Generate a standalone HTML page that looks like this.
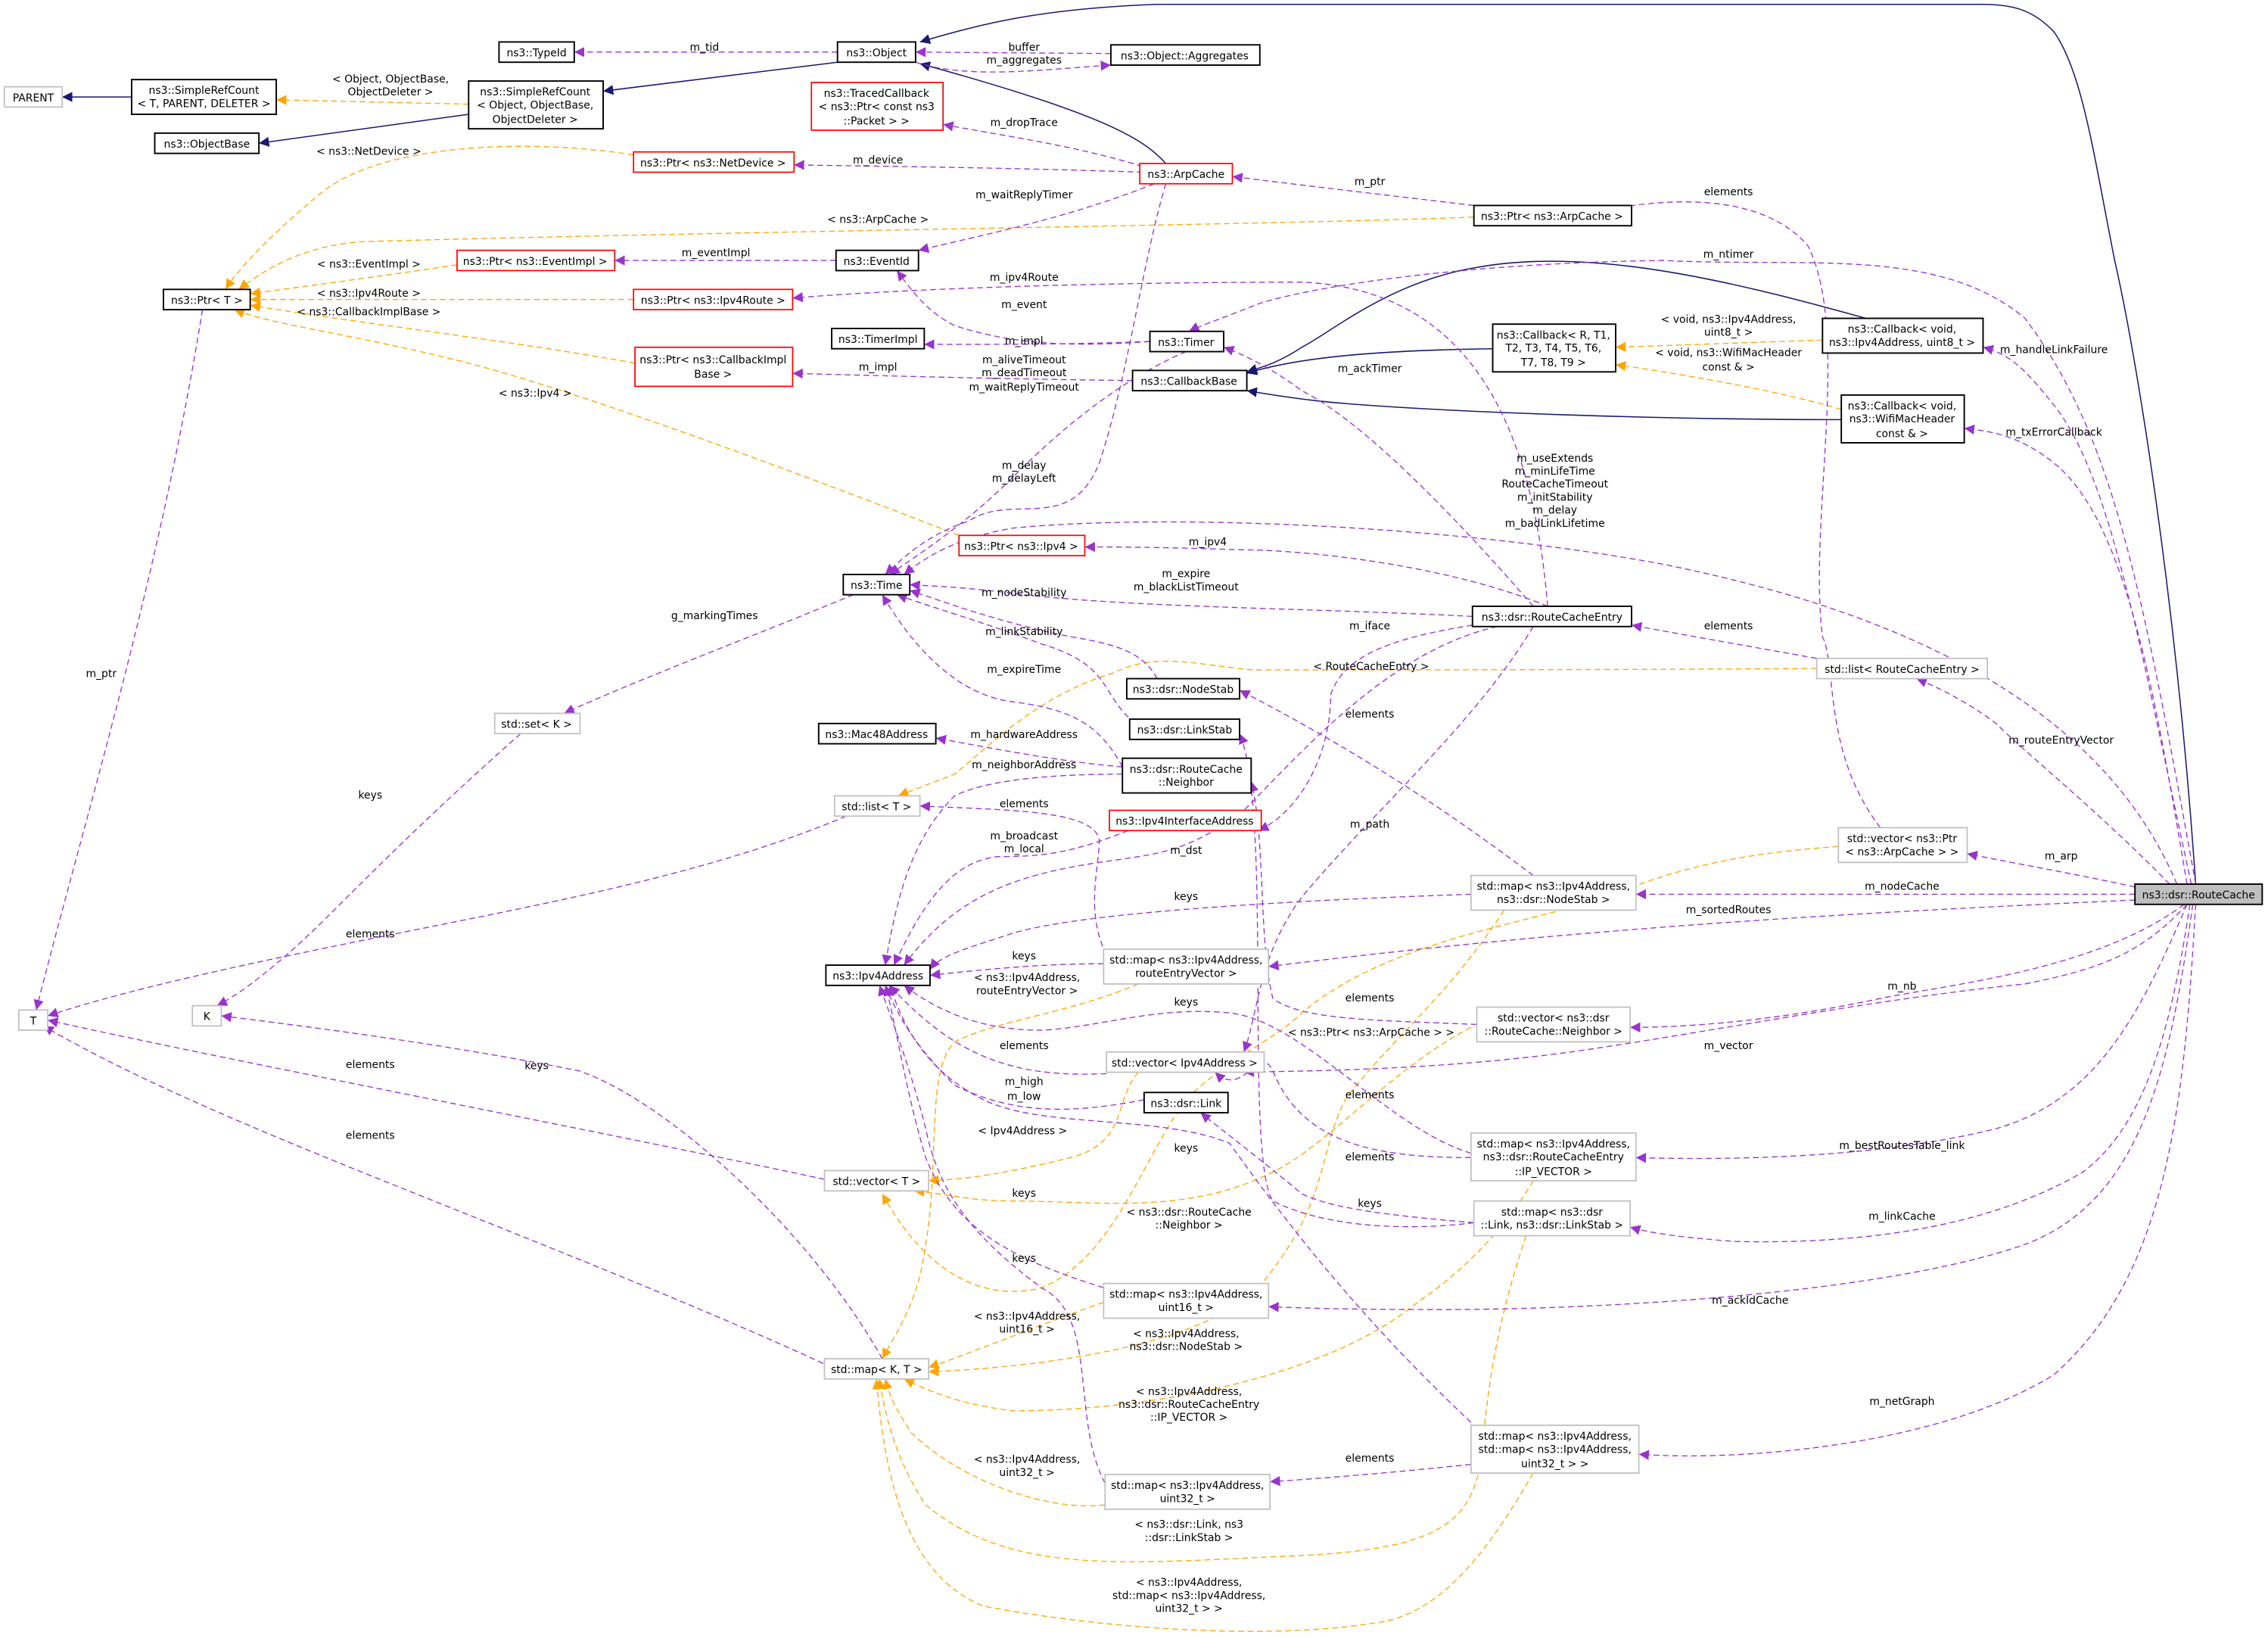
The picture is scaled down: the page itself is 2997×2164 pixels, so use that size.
<!DOCTYPE html>
<html><head><meta charset="utf-8"><style>
html,body{margin:0;padding:0;background:#fff;}
svg{display:block;}
text{font-family:"DejaVu Sans","Liberation Sans",sans-serif;font-size:7.3px;fill:#000;}
.n{fill:#fff;stroke:#000;stroke-width:1;}
.r{fill:#fff;stroke:#ff0000;stroke-width:0.9;}
.g{fill:#fff;stroke:#bfbfbf;stroke-width:0.9;}
.p{fill:none;stroke:#9a32cd;stroke-width:0.7;stroke-dasharray:4,2.5;}
.o{fill:none;stroke:#ffa500;stroke-width:0.7;stroke-dasharray:4,2.5;}
.b{fill:none;stroke:#191970;stroke-width:0.8;}
</style></head><body>
<svg width="2997" height="2164" viewBox="0 0 1568 1132" preserveAspectRatio="none" xmlns="http://www.w3.org/2000/svg">
<defs>
<marker id="mp" viewBox="0 0 10 10" refX="10" refY="5" markerWidth="7" markerHeight="7" orient="auto" markerUnits="userSpaceOnUse"><path d="M0,0 L10,5 L0,10 z" fill="#9a32cd"/></marker>
<marker id="mo" viewBox="0 0 10 10" refX="10" refY="5" markerWidth="7" markerHeight="7" orient="auto" markerUnits="userSpaceOnUse"><path d="M0,0 L10,5 L0,10 z" fill="#ffa500"/></marker>
<marker id="mb" viewBox="0 0 10 10" refX="10" refY="5" markerWidth="7" markerHeight="7" orient="auto" markerUnits="userSpaceOnUse"><path d="M0,0 L10,5 L0,10 z" fill="#191970"/></marker>
</defs>

<g class="b" marker-end="url(#mb)">
<path d="M91,67 L43,67"/>
<path d="M324,79 L179,99"/>
<path d="M579,43 L417,63"/>
<path d="M1518,611 C1505,420 1478,250 1462,180 C1448,110 1440,50 1420,22 C1405,6 1390,3 1370,3 L800,3 C720,6 680,16 636,29"/>
<path d="M806,113 C790,95 760,78 636,44"/>
<path d="M1032,241 C960,242 900,246 862,258"/>
<path d="M1290,220 C1200,195 1100,170 1020,185 C960,195 920,230 900,240 C885,250 875,253 862,257"/>
<path d="M1273,290 C1150,290 1000,285 920,278 C890,275 875,272 862,270"/>
</g>

<g class="o" marker-end="url(#mo)">
<path d="M324,72 L191,69"/>
<path d="M438,107 C360,95 260,100 220,135 C190,160 165,185 156,200"/>
<path d="M1019,150 C900,155 500,160 250,167 C210,170 185,185 165,200"/>
<path d="M316,183 C270,190 210,198 173,203"/>
<path d="M438,207 L173,207"/>
<path d="M439,251 C350,235 260,225 173,211"/>
<path d="M663,370 C560,330 400,270 320,250 C240,230 190,225 162,214"/>
<path d="M1260,235 L1117,240"/>
<path d="M1273,283 C1230,270 1160,258 1117,252"/>
<path d="M1256,462 C1100,463 900,463 866,463 C830,460 800,450 770,465 C720,480 690,510 660,535 L621,550"/>
<path d="M787,741 C770,760 780,790 740,800 C700,810 670,815 642,816"/>
<path d="M1017,710 C960,740 920,790 880,810 C820,840 760,830 700,830 C670,830 655,825 632,823"/>
<path d="M1271,585 C1200,590 1160,600 1110,620 C1050,640 960,650 900,700 C880,720 850,730 820,760 C790,800 770,870 720,890 C680,900 640,880 610,825"/>
<path d="M787,680 C740,700 690,705 660,720 C640,740 650,800 640,860 C635,900 620,920 610,939"/>
<path d="M763,900 C720,915 680,932 642,945"/>
<path d="M1040,629 C1000,690 960,720 930,760 C910,800 920,830 870,890 C830,930 720,945 642,948"/>
<path d="M1060,816 C1040,850 1010,880 980,900 C920,950 800,975 700,975 C660,970 640,960 625,953"/>
<path d="M764,1040 C720,1045 660,1020 630,990 C620,975 615,965 612,953"/>
<path d="M1055,854 C1040,900 1030,940 1025,1000 C1020,1050 1000,1070 900,1075 C780,1080 700,1090 640,1040 C620,1010 612,980 608,953"/>
<path d="M1060,1018 C1030,1070 1000,1110 960,1120 C880,1135 760,1125 680,1110 C630,1090 612,1030 606,953"/>
</g>

<g class="p" marker-end="url(#mp)">
<path d="M579,36 L397,36"/>
<path d="M768,37 L633,36"/>
<path d="M633,43 C670,55 720,48 768,45"/>
<path d="M578,180 L425,180"/>
<path d="M790,115 C740,100 700,95 652,86"/>
<path d="M790,119 C700,116 620,115 549,114"/>
<path d="M798,127 C740,150 690,160 635,173"/>
<path d="M806,127 C790,180 780,260 760,320 C740,370 700,340 670,360 C640,370 625,385 612,397"/>
<path d="M820,243 C780,260 740,290 700,330 C670,360 640,380 615,397"/>
<path d="M1019,142 C960,135 900,128 852,122"/>
<path d="M795,236 C740,240 700,238 660,225 C640,215 630,200 620,187"/>
<path d="M795,236 C740,238 700,238 639,238"/>
<path d="M783,263 C700,262 620,260 548,258"/>
<path d="M1518,611 C1480,400 1460,300 1400,220 C1340,170 1250,185 1150,180 C1000,182 900,200 870,210 C845,220 830,225 822,229"/>
<path d="M1060,419 C1000,350 940,290 900,270 C880,255 860,245 846,240"/>
<path d="M1070,419 C1060,300 1020,200 900,195 C750,195 620,200 548,206"/>
<path d="M1515,611 C1480,450 1460,330 1420,280 C1400,255 1390,245 1371,240"/>
<path d="M1512,611 C1490,480 1470,360 1420,320 C1395,300 1375,298 1358,296"/>
<path d="M1505,611 C1450,480 1300,420 1150,390 C1000,362 800,355 700,365 C660,372 640,385 625,397"/>
<path d="M1070,419 C1000,390 900,380 860,380 C800,378 770,378 750,378"/>
<path d="M1018,426 C900,420 780,420 700,410 C660,405 640,405 629,404"/>
<path d="M800,469 C790,450 770,445 740,440 C690,430 650,415 629,408"/>
<path d="M785,500 C760,480 770,460 720,445 C680,430 645,420 620,411"/>
<path d="M776,530 C760,500 740,490 700,485 C660,480 630,445 610,411"/>
<path d="M590,411 C520,440 440,470 390,493"/>
<path d="M776,530 C740,527 700,520 647,510"/>
<path d="M776,535 C720,535 680,540 660,550 C630,580 620,620 612,667"/>
<path d="M765,660 C750,630 760,600 760,580 C755,560 700,560 636,557"/>
<path d="M780,574 C740,590 720,592 690,592 C660,595 640,620 618,667"/>
<path d="M1018,432 C970,440 930,450 920,480 C920,520 900,560 870,574"/>
<path d="M1256,455 C1200,445 1160,438 1128,432"/>
<path d="M1300,572 C1260,520 1270,460 1260,440 C1250,360 1280,230 1250,170 C1220,135 1160,135 1105,146"/>
<path d="M1060,605 C1000,560 940,520 857,477"/>
<path d="M1500,611 C1450,560 1400,520 1380,500 C1360,485 1340,475 1325,469"/>
<path d="M1060,433 C1020,500 950,560 900,620 C870,660 870,700 860,727"/>
<path d="M1035,433 C960,450 900,520 860,560 C820,590 800,590 760,596 C700,605 660,620 625,667"/>
<path d="M1476,613 C1440,605 1400,598 1360,590"/>
<path d="M1476,618 L1131,618"/>
<path d="M1017,618 C900,622 750,630 700,645 C670,655 650,660 643,670"/>
<path d="M1476,622 C1300,630 1100,640 877,668"/>
<path d="M763,666 C720,666 680,670 643,674"/>
<path d="M1021,708 C950,705 900,705 880,690 C870,650 875,580 865,540"/>
<path d="M1017,797 C960,780 900,705 850,700 C800,695 760,710 720,712 C680,712 650,700 625,681"/>
<path d="M1510,625 C1450,670 1350,680 1300,690 C1230,705 1170,710 1127,710"/>
<path d="M1512,625 C1480,660 1450,670 1400,680 C1300,690 1200,710 1100,725 C1000,740 900,740 860,741"/>
<path d="M765,742 C700,745 660,730 615,681"/>
<path d="M791,760 C740,770 700,770 660,750 C630,720 620,700 612,681"/>
<path d="M1017,800 C950,800 900,790 880,740 C870,720 860,760 840,741"/>
<path d="M1019,845 C960,840 920,835 900,825 C870,800 850,785 830,769"/>
<path d="M1019,845 C980,850 920,850 880,830 C860,800 880,560 857,507"/>
<path d="M763,890 C700,870 660,850 640,800 C625,750 618,700 612,681"/>
<path d="M764,1025 C740,980 760,910 720,890 C680,860 650,830 640,780 C630,740 615,700 608,681"/>
<path d="M1017,983 C950,920 900,860 850,790 C800,770 720,780 680,760 C640,740 625,710 615,681"/>
<path d="M1512,625 C1480,700 1450,760 1380,780 C1300,800 1200,802 1131,800"/>
<path d="M1514,625 C1500,720 1480,780 1440,810 C1380,845 1300,860 1200,858 C1160,855 1140,852 1127,848"/>
<path d="M1516,625 C1500,740 1480,830 1400,860 C1300,895 1100,905 1000,905 C930,905 900,904 877,903"/>
<path d="M1518,625 C1510,760 1500,880 1420,950 C1340,1000 1200,1010 1133,1005"/>
<path d="M1017,1012 C960,1018 910,1022 878,1024"/>
<path d="M140,214 C110,400 60,560 25,698"/>
<path d="M360,507 C300,560 260,600 230,630 C200,660 170,685 150,695"/>
<path d="M585,564 C500,600 400,620 300,640 C200,660 100,680 33,702"/>
<path d="M570,815 C500,800 400,780 300,760 C200,740 100,720 33,705"/>
<path d="M575,945 C500,910 400,870 300,830 C200,790 100,750 30,709"/>
<path d="M610,939 C560,850 460,760 400,740 C300,720 200,708 153,702"/>
</g>

<g>
<rect class="g" x="3" y="60" width="40" height="14"/><text x="23" y="70" text-anchor="middle">PARENT</text>
<rect class="n" x="91" y="55" width="100" height="24"/><text x="141" y="65" text-anchor="middle">ns3::SimpleRefCount</text><text x="141" y="74" text-anchor="middle">&lt; T, PARENT, DELETER &gt;</text>
<rect class="n" x="107" y="92" width="72" height="14"/><text x="143" y="102" text-anchor="middle">ns3::ObjectBase</text>
<rect class="n" x="324" y="56" width="93" height="33"/><text x="370" y="66" text-anchor="middle">ns3::SimpleRefCount</text><text x="370" y="75" text-anchor="middle">&lt; Object, ObjectBase,</text><text x="370" y="85" text-anchor="middle">ObjectDeleter &gt;</text>
<rect class="n" x="345" y="29" width="52" height="14"/><text x="371" y="39" text-anchor="middle">ns3::TypeId</text>
<rect class="n" x="579" y="29" width="54" height="14"/><text x="606" y="39" text-anchor="middle">ns3::Object</text>
<rect class="n" x="768" y="31" width="103" height="14"/><text x="819" y="41" text-anchor="middle">ns3::Object::Aggregates</text>
<rect class="r" x="561" y="57" width="91" height="33"/><text x="606" y="67" text-anchor="middle">ns3::TracedCallback</text><text x="606" y="76" text-anchor="middle">&lt; ns3::Ptr&lt; const ns3</text><text x="606" y="86" text-anchor="middle">::Packet &gt; &gt;</text>
<rect class="r" x="438" y="105" width="111" height="14"/><text x="493" y="115" text-anchor="middle">ns3::Ptr&lt; ns3::NetDevice &gt;</text>
<rect class="r" x="788" y="113" width="64" height="14"/><text x="820" y="123" text-anchor="middle">ns3::ArpCache</text>
<rect class="n" x="1019" y="142" width="109" height="14"/><text x="1073" y="152" text-anchor="middle">ns3::Ptr&lt; ns3::ArpCache &gt;</text>
<rect class="r" x="316" y="173" width="109" height="14"/><text x="370" y="183" text-anchor="middle">ns3::Ptr&lt; ns3::EventImpl &gt;</text>
<rect class="n" x="578" y="173" width="57" height="14"/><text x="606" y="183" text-anchor="middle">ns3::EventId</text>
<rect class="n" x="113" y="200" width="60" height="14"/><text x="143" y="210" text-anchor="middle">ns3::Ptr&lt; T &gt;</text>
<rect class="r" x="438" y="200" width="110" height="14"/><text x="493" y="210" text-anchor="middle">ns3::Ptr&lt; ns3::Ipv4Route &gt;</text>
<rect class="n" x="575" y="227" width="64" height="14"/><text x="607" y="237" text-anchor="middle">ns3::TimerImpl</text>
<rect class="n" x="795" y="229" width="51" height="14"/><text x="820" y="239" text-anchor="middle">ns3::Timer</text>
<rect class="n" x="783" y="256" width="79" height="14"/><text x="822" y="266" text-anchor="middle">ns3::CallbackBase</text>
<rect class="n" x="1032" y="224" width="85" height="33"/><text x="1074" y="234" text-anchor="middle">ns3::Callback&lt; R, T1,</text><text x="1074" y="243" text-anchor="middle">T2, T3, T4, T5, T6,</text><text x="1074" y="253" text-anchor="middle">T7, T8, T9 &gt;</text>
<rect class="n" x="1260" y="220" width="111" height="24"/><text x="1315" y="230" text-anchor="middle">ns3::Callback&lt; void,</text><text x="1315" y="239" text-anchor="middle">ns3::Ipv4Address, uint8_t &gt;</text>
<rect class="n" x="1273" y="273" width="85" height="33"/><text x="1315" y="283" text-anchor="middle">ns3::Callback&lt; void,</text><text x="1315" y="292" text-anchor="middle">ns3::WifiMacHeader</text><text x="1315" y="302" text-anchor="middle">const &amp; &gt;</text>
<rect class="r" x="439" y="240" width="109" height="27"/><text x="493" y="251" text-anchor="middle">ns3::Ptr&lt; ns3::CallbackImpl</text><text x="493" y="261" text-anchor="middle">Base &gt;</text>
<rect class="r" x="663" y="370" width="87" height="14"/><text x="706" y="380" text-anchor="middle">ns3::Ptr&lt; ns3::Ipv4 &gt;</text>
<rect class="n" x="583" y="397" width="46" height="14"/><text x="606" y="407" text-anchor="middle">ns3::Time</text>
<rect class="n" x="1018" y="419" width="110" height="14"/><text x="1073" y="429" text-anchor="middle">ns3::dsr::RouteCacheEntry</text>
<rect class="g" x="1256" y="455" width="118" height="14"/><text x="1315" y="465" text-anchor="middle">std::list&lt; RouteCacheEntry &gt;</text>
<rect class="g" x="342" y="493" width="59" height="14"/><text x="371" y="503" text-anchor="middle">std::set&lt; K &gt;</text>
<rect class="n" x="566" y="500" width="81" height="14"/><text x="606" y="510" text-anchor="middle">ns3::Mac48Address</text>
<rect class="n" x="779" y="469" width="78" height="14"/><text x="818" y="479" text-anchor="middle">ns3::dsr::NodeStab</text>
<rect class="n" x="781" y="497" width="76" height="14"/><text x="819" y="507" text-anchor="middle">ns3::dsr::LinkStab</text>
<rect class="n" x="776" y="524" width="89" height="24"/><text x="820" y="534" text-anchor="middle">ns3::dsr::RouteCache</text><text x="820" y="543" text-anchor="middle">::Neighbor</text>
<rect class="g" x="577" y="550" width="59" height="14"/><text x="606" y="560" text-anchor="middle">std::list&lt; T &gt;</text>
<rect class="r" x="767" y="560" width="105" height="14"/><text x="819" y="570" text-anchor="middle">ns3::Ipv4InterfaceAddress</text>
<rect class="g" x="1271" y="572" width="89" height="24"/><text x="1315" y="582" text-anchor="middle">std::vector&lt; ns3::Ptr</text><text x="1315" y="591" text-anchor="middle">&lt; ns3::ArpCache &gt; &gt;</text>
<rect class="g" x="1017" y="605" width="114" height="24"/><text x="1074" y="615" text-anchor="middle">std::map&lt; ns3::Ipv4Address,</text><text x="1074" y="624" text-anchor="middle">ns3::dsr::NodeStab &gt;</text>
<rect x="1476" y="611" width="88" height="14" fill="#bfbfbf" stroke="#000" stroke-width="1"/><text x="1520" y="621" text-anchor="middle">ns3::dsr::RouteCache</text>
<rect class="n" x="571" y="667" width="72" height="14"/><text x="607" y="677" text-anchor="middle">ns3::Ipv4Address</text>
<rect class="g" x="763" y="656" width="114" height="24"/><text x="820" y="666" text-anchor="middle">std::map&lt; ns3::Ipv4Address,</text><text x="820" y="675" text-anchor="middle">routeEntryVector &gt;</text>
<rect class="g" x="13" y="698" width="20" height="14"/><text x="23" y="708" text-anchor="middle">T</text>
<rect class="g" x="133" y="695" width="20" height="14"/><text x="143" y="705" text-anchor="middle">K</text>
<rect class="g" x="1021" y="696" width="106" height="24"/><text x="1074" y="706" text-anchor="middle">std::vector&lt; ns3::dsr</text><text x="1074" y="715" text-anchor="middle">::RouteCache::Neighbor &gt;</text>
<rect class="g" x="765" y="727" width="109" height="14"/><text x="819" y="737" text-anchor="middle">std::vector&lt; Ipv4Address &gt;</text>
<rect class="n" x="791" y="755" width="58" height="14"/><text x="820" y="765" text-anchor="middle">ns3::dsr::Link</text>
<rect class="g" x="1017" y="783" width="114" height="33"/><text x="1074" y="793" text-anchor="middle">std::map&lt; ns3::Ipv4Address,</text><text x="1074" y="802" text-anchor="middle">ns3::dsr::RouteCacheEntry</text><text x="1074" y="812" text-anchor="middle">::IP_VECTOR &gt;</text>
<rect class="g" x="570" y="809" width="72" height="14"/><text x="606" y="819" text-anchor="middle">std::vector&lt; T &gt;</text>
<rect class="g" x="1019" y="830" width="108" height="24"/><text x="1073" y="840" text-anchor="middle">std::map&lt; ns3::dsr</text><text x="1073" y="849" text-anchor="middle">::Link, ns3::dsr::LinkStab &gt;</text>
<rect class="g" x="763" y="887" width="114" height="24"/><text x="820" y="897" text-anchor="middle">std::map&lt; ns3::Ipv4Address,</text><text x="820" y="906" text-anchor="middle">uint16_t &gt;</text>
<rect class="g" x="570" y="939" width="72" height="14"/><text x="606" y="949" text-anchor="middle">std::map&lt; K, T &gt;</text>
<rect class="g" x="1017" y="985" width="116" height="33"/><text x="1075" y="995" text-anchor="middle">std::map&lt; ns3::Ipv4Address,</text><text x="1075" y="1004" text-anchor="middle">std::map&lt; ns3::Ipv4Address,</text><text x="1075" y="1014" text-anchor="middle">uint32_t &gt; &gt;</text>
<rect class="g" x="764" y="1019" width="114" height="24"/><text x="821" y="1029" text-anchor="middle">std::map&lt; ns3::Ipv4Address,</text><text x="821" y="1038" text-anchor="middle">uint32_t &gt;</text>
</g>

<g text-anchor="middle">
<text x="487" y="35">m_tid</text>
<text x="708" y="35">buffer</text><text x="708" y="44">m_aggregates</text>
<text x="270" y="57">&lt; Object, ObjectBase,</text><text x="270" y="66">ObjectDeleter &gt;</text>
<text x="708" y="87">m_dropTrace</text>
<text x="255" y="107">&lt; ns3::NetDevice &gt;</text>
<text x="607" y="113">m_device</text>
<text x="947" y="128">m_ptr</text>
<text x="1195" y="135">elements</text>
<text x="708" y="137">m_waitReplyTimer</text>
<text x="607" y="154">&lt; ns3::ArpCache &gt;</text>
<text x="1195" y="178">m_ntimer</text>
<text x="495" y="177">m_eventImpl</text>
<text x="255" y="185">&lt; ns3::EventImpl &gt;</text>
<text x="708" y="194">m_ipv4Route</text>
<text x="255" y="205">&lt; ns3::Ipv4Route &gt;</text>
<text x="708" y="213">m_event</text>
<text x="255" y="218">&lt; ns3::CallbackImplBase &gt;</text>
<text x="1195" y="223">&lt; void, ns3::Ipv4Address,</text><text x="1195" y="232">uint8_t &gt;</text>
<text x="708" y="238">m_impl</text>
<text x="1420" y="244">m_handleLinkFailure</text>
<text x="1195" y="246">&lt; void, ns3::WifiMacHeader</text><text x="1195" y="256">const &amp; &gt;</text>
<text x="708" y="251">m_aliveTimeout</text><text x="708" y="260">m_deadTimeout</text><text x="708" y="270">m_waitReplyTimeout</text>
<text x="607" y="256">m_impl</text>
<text x="947" y="257">m_ackTimer</text>
<text x="370" y="274">&lt; ns3::Ipv4 &gt;</text>
<text x="1420" y="301">m_txErrorCallback</text>
<text x="1075" y="319">m_useExtends</text><text x="1075" y="328">m_minLifeTime</text><text x="1075" y="337">RouteCacheTimeout</text><text x="1075" y="346">m_initStability</text><text x="1075" y="355">m_delay</text><text x="1075" y="364">m_badLinkLifetime</text>
<text x="708" y="324">m_delay</text><text x="708" y="333">m_delayLeft</text>
<text x="835" y="377">m_ipv4</text>
<text x="820" y="399">m_expire</text><text x="820" y="408">m_blackListTimeout</text>
<text x="708" y="412">m_nodeStability</text>
<text x="494" y="428">g_markingTimes</text>
<text x="947" y="435">m_iface</text>
<text x="1195" y="435">elements</text>
<text x="708" y="439">m_linkStability</text>
<text x="948" y="463">&lt; RouteCacheEntry &gt;</text>
<text x="70" y="468">m_ptr</text>
<text x="708" y="465">m_expireTime</text>
<text x="947" y="496">elements</text>
<text x="708" y="510">m_hardwareAddress</text>
<text x="1425" y="514">m_routeEntryVector</text>
<text x="708" y="531">m_neighborAddress</text>
<text x="256" y="552">keys</text>
<text x="708" y="558">elements</text>
<text x="947" y="572">m_path</text>
<text x="708" y="580">m_broadcast</text><text x="708" y="589">m_local</text>
<text x="820" y="590">m_dst</text>
<text x="1425" y="594">m_arp</text>
<text x="1315" y="615">m_nodeCache</text>
<text x="820" y="622">keys</text>
<text x="1195" y="631">m_sortedRoutes</text>
<text x="256" y="648">elements</text>
<text x="708" y="663">keys</text>
<text x="710" y="678">&lt; ns3::Ipv4Address,</text><text x="710" y="687">routeEntryVector &gt;</text>
<text x="1315" y="684">m_nb</text>
<text x="947" y="692">elements</text>
<text x="820" y="695">keys</text>
<text x="948" y="716">&lt; ns3::Ptr&lt; ns3::ArpCache &gt; &gt;</text>
<text x="1195" y="725">m_vector</text>
<text x="708" y="725">elements</text>
<text x="256" y="738">elements</text>
<text x="371" y="739">keys</text>
<text x="708" y="750">m_high</text><text x="708" y="760">m_low</text>
<text x="947" y="759">elements</text>
<text x="707" y="784">&lt; Ipv4Address &gt;</text>
<text x="256" y="787">elements</text>
<text x="1315" y="794">m_bestRoutesTable_link</text>
<text x="820" y="796">keys</text>
<text x="947" y="802">elements</text>
<text x="708" y="827">keys</text>
<text x="947" y="834">keys</text>
<text x="822" y="840">&lt; ns3::dsr::RouteCache</text><text x="822" y="849">::Neighbor &gt;</text>
<text x="1315" y="843">m_linkCache</text>
<text x="708" y="872">keys</text>
<text x="1210" y="901">m_ackIdCache</text>
<text x="710" y="912">&lt; ns3::Ipv4Address,</text><text x="710" y="921">uint16_t &gt;</text>
<text x="820" y="924">&lt; ns3::Ipv4Address,</text><text x="820" y="933">ns3::dsr::NodeStab &gt;</text>
<text x="822" y="964">&lt; ns3::Ipv4Address,</text><text x="822" y="973">ns3::dsr::RouteCacheEntry</text><text x="822" y="982">::IP_VECTOR &gt;</text>
<text x="1315" y="971">m_netGraph</text>
<text x="947" y="1010">elements</text>
<text x="710" y="1011">&lt; ns3::Ipv4Address,</text><text x="710" y="1020">uint32_t &gt;</text>
<text x="822" y="1056">&lt; ns3::dsr::Link, ns3</text><text x="822" y="1065">::dsr::LinkStab &gt;</text>
<text x="822" y="1096">&lt; ns3::Ipv4Address,</text><text x="822" y="1105">std::map&lt; ns3::Ipv4Address,</text><text x="822" y="1114">uint32_t &gt; &gt;</text>
</g>
</svg>
</body></html>
